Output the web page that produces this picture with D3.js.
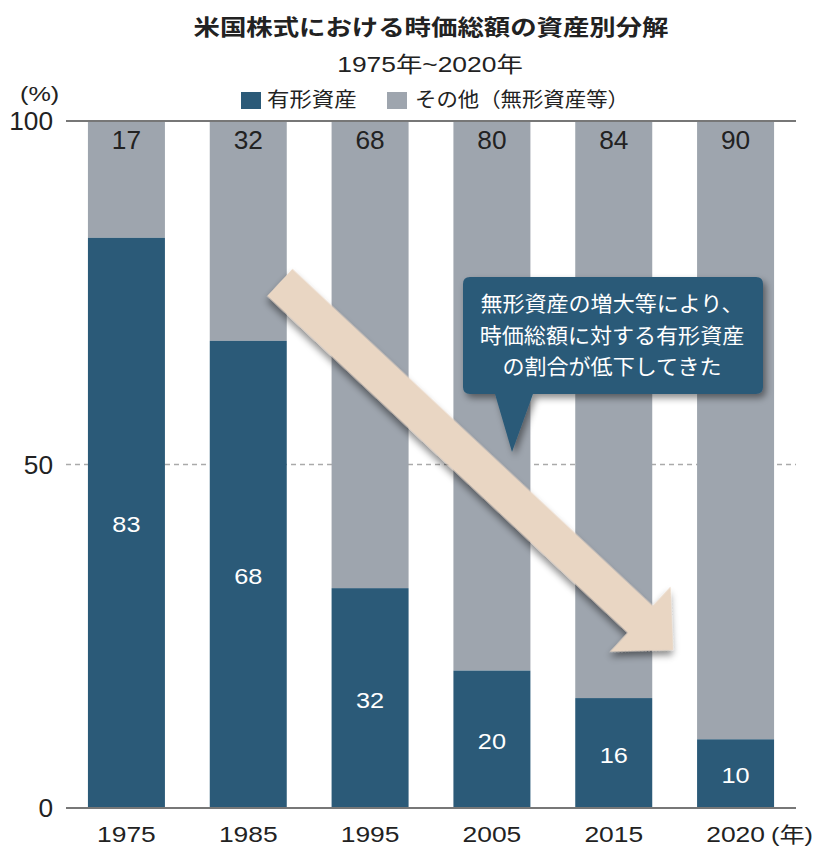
<!DOCTYPE html>
<html lang="ja">
<head>
<meta charset="utf-8">
<script src="https://cdn.jsdelivr.net/npm/d3@7"></script>
<style>
  html, body { margin: 0; padding: 0; background: #fff; }
  svg { display: block; }
</style>
</head>
<body>
<svg id="chart" width="817" height="846"></svg>
<script>
// Composition of US equity market capitalisation by asset type (%)
const years = ["1975", "1985", "1995", "2005", "2015", "2020"];
const tangible = [83, 68, 32, 20, 16, 10];      // 有形資産
const other = [17, 32, 68, 80, 84, 90];         // その他（無形資産等）
const yTicks = [0, 50, 100];
const seriesNames = ["有形資産", "その他（無形資産等）"];

const titleText = "米国株式における時価総額の資産別分解";
const subtitleText = "1975年~2020年";
const calloutLines = ["無形資産の増大等により、", "時価総額に対する有形資産", "の割合が低下してきた"];

const colTangible = "#2b5a78";
const colOther = "#9ea5ae";
const FONT = "'Liberation Sans', 'Noto Sans CJK JP', sans-serif";
const JFONT = "'Noto Sans CJK JP', 'Liberation Sans', sans-serif";

const svg = d3.select("#chart");

const x = d3.scaleBand().domain(years).range([66, 796])
  .paddingInner(0.368).paddingOuter(0.18);
const y = d3.scaleLinear().domain([0, 100]).range([808, 121]);

// shadow filter shared by the arrow and the callout
const defs = svg.append("defs");
const f = defs.append("filter").attr("id", "shadow")
  .attr("x", "-20%").attr("y", "-20%").attr("width", "140%").attr("height", "140%");
f.append("feDropShadow").attr("dx", 3).attr("dy", 4).attr("stdDeviation", 3.5)
  .attr("flood-color", "#000").attr("flood-opacity", 0.45);

// text helper with horizontal stretch
function txt(parent, px, py, str, o) {
  const g = parent.append("g").attr("transform", `translate(${px},${py}) scale(${o.sx || 1},1)`);
  return g.append("text")
    .attr("text-anchor", o.anchor || "middle")
    .attr("font-family", o.family || FONT)
    .attr("font-size", o.size)
    .attr("font-weight", o.weight || 400)
    .attr("fill", o.fill || "#222")
    .text(str);
}

// dashed 50% guide
svg.append("line")
  .attr("x1", 66).attr("x2", 796).attr("y1", y(50)).attr("y2", y(50))
  .attr("stroke", "#aaa").attr("stroke-width", 1.5).attr("stroke-dasharray", "5,4");

// stacked bars
const rows = years.map((yr, i) => ({ yr, t: tangible[i], o: other[i] }));
const bars = svg.append("g");
bars.selectAll("rect.o").data(rows).join("rect").attr("class", "o")
  .attr("x", d => x(d.yr)).attr("width", x.bandwidth())
  .attr("y", d => y(d.t + d.o)).attr("height", d => y(d.t) - y(d.t + d.o))
  .attr("fill", colOther);
bars.selectAll("rect.t").data(rows).join("rect").attr("class", "t")
  .attr("x", d => x(d.yr)).attr("width", x.bandwidth())
  .attr("y", d => y(d.t)).attr("height", d => y(0) - y(d.t))
  .attr("fill", colTangible);

// frame lines at 0 and 100
[0, 100].forEach(v => {
  svg.append("line").attr("x1", 66).attr("x2", 796).attr("y1", y(v)).attr("y2", y(v))
    .attr("stroke", "#777").attr("stroke-width", 2);
});

// y tick labels
yTicks.forEach(v => txt(svg, 53, y(v) + 9, String(v), { size: 25, anchor: "end", sx: 1.05 }));
txt(svg, 20, 101, "(%)", { size: 21, anchor: "start", sx: 1.2 });

// value labels
rows.forEach(d => {
  const cx = x(d.yr) + x.bandwidth() / 2;
  txt(svg, cx, y(100) + 28, String(d.o), { size: 25, sx: 1.05 });
  const mid = (y(d.t) + y(0)) / 2 + 1.5;
  txt(svg, cx, mid + 8, String(d.t), { size: 22, fill: "#fff", sx: 1.15 });
});

// x labels
years.forEach(yr => txt(svg, x(yr) + x.bandwidth() / 2, 842, yr, { size: 22, sx: 1.2 }));
txt(svg, 771, 842, "(年)", { size: 21, anchor: "start", sx: 1.2 });

// title, subtitle, legend
txt(svg, 431, 35, titleText, { size: 22, weight: 700, family: JFONT, sx: 1.2 });
txt(svg, 430, 72, subtitleText, { size: 22, sx: 1.2 });
const leg = svg.append("g");
[[241, colTangible, 267, seriesNames[0], 1.12], [387, colOther, 415, seriesNames[1], 1.07]].forEach(([sxp, c, tx, name, s]) => {
  leg.append("rect").attr("x", sxp).attr("y", 92).attr("width", 20).attr("height", 17).attr("fill", c);
  txt(leg, tx, 107, name, { size: 20, anchor: "start", family: JFONT, sx: s });
});

// downward trend arrow
const a0 = [x("1985") + x.bandwidth() * 0.91, y(76.5)];
const a1 = [x("2020") - 24, y(23)];
const L = Math.hypot(a1[0] - a0[0], a1[1] - a0[1]);
const ang = Math.atan2(a1[1] - a0[1], a1[0] - a0[0]) * 180 / Math.PI;
const hw = 18.5, hl = 45, hh = 44.5;
const arrowPts = [[0, -hw], [L - hl, -hw], [L - hl, -hh], [L, 0], [L - hl, hh], [L - hl, hw], [0, hw]];
svg.append("path")
  .attr("d", d3.line()(arrowPts) + "Z")
  .attr("transform", `translate(${a0[0]},${a0[1]}) rotate(${ang})`)
  .attr("fill", "#e9d6c3")
  .attr("filter", "url(#shadow)");

// callout
const box = { x0: 463, y0: 277, x1: 763, y1: 394 };
const tipX = 512, tipY = 452;
const r = 7;
const cp = d3.path();
cp.moveTo(box.x0 + r, box.y0);
cp.lineTo(box.x1 - r, box.y0); cp.quadraticCurveTo(box.x1, box.y0, box.x1, box.y0 + r);
cp.lineTo(box.x1, box.y1 - r); cp.quadraticCurveTo(box.x1, box.y1, box.x1 - r, box.y1);
cp.lineTo(533, box.y1); cp.lineTo(tipX, tipY); cp.lineTo(495, box.y1);
cp.lineTo(box.x0 + r, box.y1); cp.quadraticCurveTo(box.x0, box.y1, box.x0, box.y1 - r);
cp.lineTo(box.x0, box.y0 + r); cp.quadraticCurveTo(box.x0, box.y0, box.x0 + r, box.y0);
cp.closePath();
svg.append("path").attr("d", cp.toString()).attr("fill", colTangible).attr("filter", "url(#shadow)");
calloutLines.forEach((ln, i) => {
  txt(svg, 612, 311 + i * 31.5, ln, { size: 21, fill: "#fff", family: JFONT, sx: 1.05 });
});
</script>
</body>
</html>
